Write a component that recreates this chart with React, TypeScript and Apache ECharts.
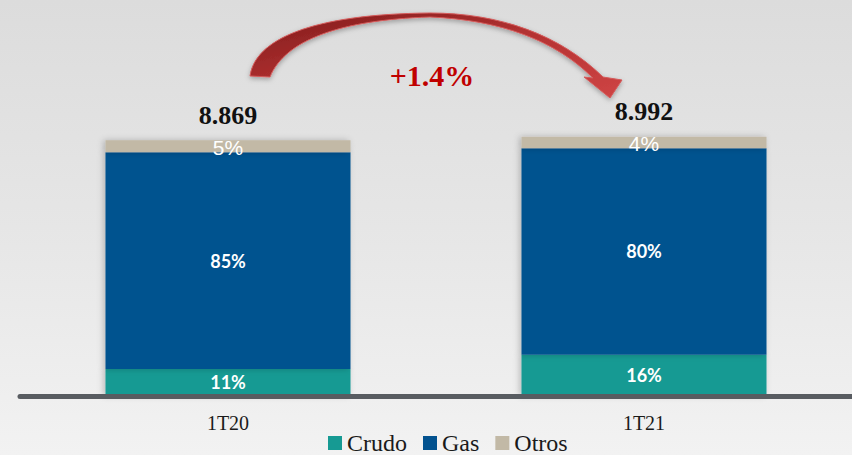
import React, { useEffect, useRef } from "react";
import * as echarts from "echarts";

const categories = ["1T20", "1T21"];
const seriesNames = ["Crudo", "Gas", "Otros"];
const crudo = [940, 1430];
const gas = [7512, 7166];
const otros = [417, 396];
const totals = [8869, 8992];
const colors = ["#169a93", "#02528f", "#c2b9a6"];

const arrowPath =
  "M250 76 C255 40 310 14 430 13 C500 13 560 35 603 77 L622 80 L610 98 L584 77 L593 78 C555 40 500 20 430 17 C340 20 285 40 270 77 Z";

echarts.graphic.registerShape("curvedArrow", echarts.graphic.extendPath(arrowPath, {}));

export default function App() {
  const ref = useRef<HTMLDivElement>(null);
  useEffect(() => {
    if (!ref.current) return;
    const chart = echarts.init(ref.current, undefined, { renderer: "svg" });
    const pct = (arr: number[]) => (p: any) =>
      Math.round((arr[p.dataIndex] / totals[p.dataIndex]) * 100) + "%";
    const boldLabel = {
      show: true,
      position: "inside",
      color: "#ffffff",
      fontFamily: "Lato",
      fontWeight: "bold",
      fontSize: 18,
    };
    const shadow = {
      shadowBlur: 6,
      shadowColor: "rgba(0,0,0,0.22)",
      shadowOffsetX: -2,
    };
    const change = ((totals[1] / totals[0] - 1) * 100).toFixed(1);
    chart.setOption({
      animation: false,
      backgroundColor: "transparent",
      grid: { left: 20, right: 0, top: 50, bottom: 59 },
      legend: {
        data: seriesNames,
        left: 328,
        top: 431,
        padding: 0,
        icon: "rect",
        itemWidth: 14,
        itemHeight: 14,
        itemGap: 16,
        textStyle: {
          fontFamily: "Liberation Serif",
          fontSize: 24,
          lineHeight: 22,
          color: "#1a1a1a",
        },
      },
      xAxis: {
        type: "category",
        data: categories,
        z: 5,
        axisLine: { show: true, lineStyle: { color: "#585c61", width: 5 } },
        axisTick: { show: false },
        axisLabel: {
          margin: 17,
          fontFamily: "Liberation Serif",
          fontSize: 20,
          color: "#1a1a1a",
        },
      },
      yAxis: { type: "value", min: 0, max: 12000, show: false, splitLine: { show: false } },
      series: [
        {
          name: "Crudo",
          type: "bar",
          stack: "t",
          barWidth: 245,
          data: crudo,
          itemStyle: { color: colors[0], ...shadow },
          label: { ...boldLabel, formatter: pct(crudo) },
        },
        {
          name: "Gas",
          type: "bar",
          stack: "t",
          data: gas,
          itemStyle: { color: colors[1], ...shadow },
          label: { ...boldLabel, formatter: pct(gas) },
        },
        {
          name: "Otros",
          type: "bar",
          stack: "t",
          data: otros,
          itemStyle: { color: colors[2], ...shadow },
          label: {
            show: true,
            position: "inside",
            color: "#ffffff",
            fontFamily: "Liberation Sans",
            fontSize: 21,
            offset: [0, 1],
            formatter: pct(otros),
          },
        },
        {
          name: "Total",
          type: "bar",
          stack: "t",
          data: totals.map(() => 0),
          itemStyle: { color: "transparent" },
          label: {
            show: true,
            position: "top",
            distance: 12,
            color: "#111111",
            fontFamily: "Liberation Serif",
            fontWeight: "bold",
            fontSize: 26,
            formatter: (p: any) => (totals[p.dataIndex] / 1000).toFixed(3),
          },
        },
      ],
      graphic: [
        {
          type: "curvedArrow",
          x: 0,
          y: 0,
          z: 10,
          style: {
            fill: new echarts.graphic.LinearGradient(0, 0, 1, 1, [
              { offset: 0, color: "#7f1b1b" },
              { offset: 0.5, color: "#b43232" },
              { offset: 1, color: "#cf4545" },
            ]),
            stroke: "#d45a5a",
            lineWidth: 1,
            shadowBlur: 5,
            shadowColor: "rgba(0,0,0,0.3)",
            shadowOffsetY: 2,
          },
        },
        {
          type: "text",
          x: 432,
          y: 75,
          z: 10,
          style: {
            text: "+" + change + "%",
            fill: "#c00000",
            fontFamily: "Liberation Serif",
            fontWeight: "bold",
            fontSize: 30,
            align: "center",
            verticalAlign: "middle",
          },
        },
      ],
    });
    return () => chart.dispose();
  }, []);
  return (
    <div
      ref={ref}
      style={{
        position: "absolute",
        left: 0,
        top: 0,
        width: 852,
        height: 455,
        background: "linear-gradient(to bottom, #dcdcdc 0%, #e6e6e6 50%, #f2f2f2 100%)",
      }}
    />
  );
}
